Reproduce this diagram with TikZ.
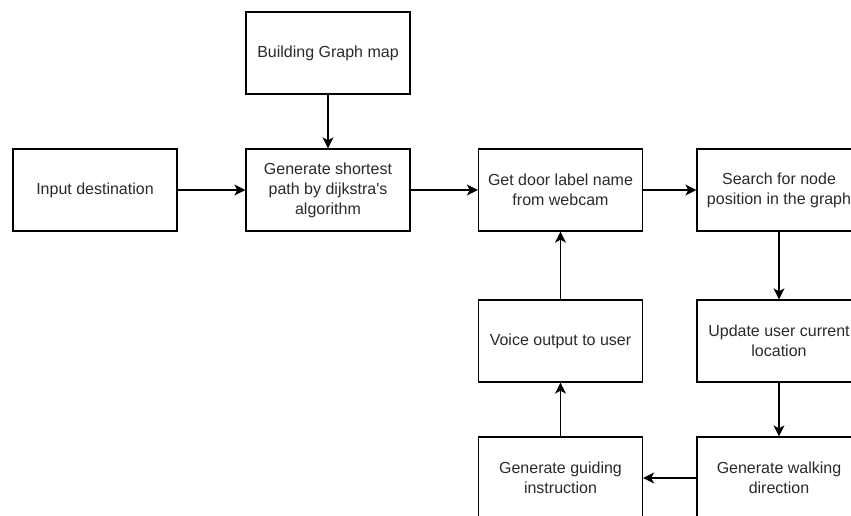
\documentclass[tikz,border=0pt]{standalone}
\usepackage{fontspec}
\setmainfont{Liberation Sans}
\usetikzlibrary{arrows.meta}
\definecolor{txt}{HTML}{2A2A2A}
\tikzset{
  box/.style={draw=black, line width=1.3pt, minimum width=164pt, minimum height=82pt,
    inner sep=2pt, align=center, text=txt, font=\fontsize{16}{20}\selectfont},
  flow/.style={draw=black, line width=1.3pt, -{Stealth[length=11pt,width=11pt,inset=3pt]}}
}
\begin{document}
\begin{tikzpicture}[x=1pt, y=-1pt]
  \clip (0,0) rectangle (851,515);
  \fill[white] (0,0) rectangle (851,515);

  \node[box] (build)    at (328,53)    {Building Graph map};
  \node[box] (input)    at (95,190)    {Input destination};
  \node[box] (shortest) at (328,190)   {Generate shortest\\path by dijkstra\textquotesingle s\\algorithm};
  \node[box] (door)     at (560.5,190) {Get door label name\\from webcam};
  \node[box] (search)   at (779,190)   {Search for node\\position in the graph};
  \node[box] (voice)    at (560.5,341) {Voice output to user};
  \node[box] (update)   at (779,341)   {Update user current\\location};
  \node[box] (guiding)  at (560.5,478) {Generate guiding\\instruction};
  \node[box] (walking)  at (779,478)   {Generate walking\\direction};

  \draw[flow] (build) -- (shortest);
  \draw[flow] (input) -- (shortest);
  \draw[flow] (shortest) -- (door);
  \draw[flow] (door) -- (search);
  \draw[flow] (search) -- (update);
  \draw[flow] (update) -- (walking);
  \draw[flow] (walking) -- (guiding);
  \draw[flow] (guiding) -- (voice);
  \draw[flow] (voice) -- (door);
\end{tikzpicture}
\end{document}
